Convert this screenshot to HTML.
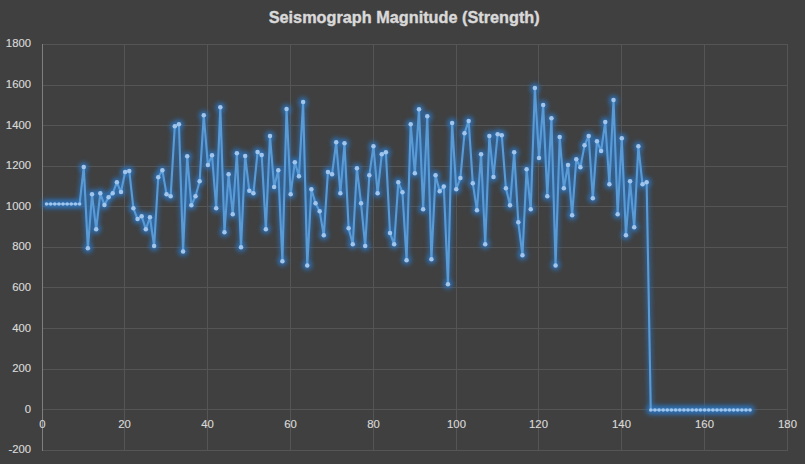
<!DOCTYPE html>
<html><head><meta charset="utf-8"><style>
html,body{margin:0;padding:0;background:#404040;}
body{width:805px;height:464px;overflow:hidden;}
svg{display:block;}
text{font-family:"Liberation Sans",sans-serif;}
</style></head><body>
<svg width="805" height="464" viewBox="0 0 805 464">
<defs>
<filter id="glowL" x="-10%" y="-10%" width="120%" height="120%">
<feGaussianBlur stdDeviation="2.5"/>
</filter>
<filter id="glowM" x="-10%" y="-10%" width="120%" height="120%">
<feGaussianBlur stdDeviation="2.5"/>
</filter>
</defs>
<rect width="805" height="464" fill="#404040"/>
<g stroke="#555555" stroke-width="1" fill="none">
<line x1="42" y1="44.5" x2="788" y2="44.5"/>
<line x1="42" y1="85.5" x2="788" y2="85.5"/>
<line x1="42" y1="125.5" x2="788" y2="125.5"/>
<line x1="42" y1="166.5" x2="788" y2="166.5"/>
<line x1="42" y1="206.5" x2="788" y2="206.5"/>
<line x1="42" y1="247.5" x2="788" y2="247.5"/>
<line x1="42" y1="287.5" x2="788" y2="287.5"/>
<line x1="42" y1="328.5" x2="788" y2="328.5"/>
<line x1="42" y1="369.5" x2="788" y2="369.5"/>
<line x1="42" y1="409.5" x2="788" y2="409.5"/>
<line x1="42" y1="450.5" x2="788" y2="450.5"/>
<line x1="124.5" y1="44" x2="124.5" y2="451"/>
<line x1="207.5" y1="44" x2="207.5" y2="451"/>
<line x1="290.5" y1="44" x2="290.5" y2="451"/>
<line x1="373.5" y1="44" x2="373.5" y2="451"/>
<line x1="456.5" y1="44" x2="456.5" y2="451"/>
<line x1="538.5" y1="44" x2="538.5" y2="451"/>
<line x1="621.5" y1="44" x2="621.5" y2="451"/>
<line x1="704.5" y1="44" x2="704.5" y2="451"/>
<line x1="787.5" y1="44" x2="787.5" y2="451"/>
</g>
<line x1="42.5" y1="44" x2="42.5" y2="451" stroke="#7f7f7f" stroke-width="1"/>
<g fill="#d9d9d9" font-size="11.3px" stroke="#d9d9d9" stroke-width="0.15">
<text x="31" y="46.50" text-anchor="end">1800</text><text x="31" y="87.50" text-anchor="end">1600</text><text x="31" y="128.50" text-anchor="end">1400</text><text x="31" y="168.50" text-anchor="end">1200</text><text x="31" y="209.50" text-anchor="end">1000</text><text x="31" y="249.50" text-anchor="end">800</text><text x="31" y="290.50" text-anchor="end">600</text><text x="31" y="331.50" text-anchor="end">400</text><text x="31" y="371.50" text-anchor="end">200</text><text x="31" y="412.50" text-anchor="end">0</text><text x="31" y="452.50" text-anchor="end">-200</text>
<text x="42.50" y="427.5" text-anchor="middle">0</text><text x="124.50" y="427.5" text-anchor="middle">20</text><text x="207.50" y="427.5" text-anchor="middle">40</text><text x="290.50" y="427.5" text-anchor="middle">60</text><text x="373.50" y="427.5" text-anchor="middle">80</text><text x="456.50" y="427.5" text-anchor="middle">100</text><text x="538.50" y="427.5" text-anchor="middle">120</text><text x="621.50" y="427.5" text-anchor="middle">140</text><text x="704.50" y="427.5" text-anchor="middle">160</text><text x="787.50" y="427.5" text-anchor="middle">180</text>
</g>
<text x="268.7" y="22.6" textLength="271" lengthAdjust="spacingAndGlyphs" fill="#d9d9d9" font-size="16.8px" font-weight="bold" stroke="#d9d9d9" stroke-width="0.4">Seismograph Magnitude (Strength)</text>
<g filter="url(#glowL)" opacity="0.9">
<polyline points="46.49,204.06 50.63,204.06 54.77,204.06 58.91,204.06 63.04,204.06 67.18,204.06 71.32,204.06 75.46,204.06 79.60,204.06 83.74,167.08 87.88,248.36 92.02,194.30 96.16,229.26 100.29,193.29 104.43,205.07 108.57,197.15 112.71,193.29 116.85,182.32 120.99,192.07 125.13,171.95 129.27,170.94 133.41,208.33 137.54,219.10 141.68,216.25 145.82,229.26 149.96,217.27 154.10,246.12 158.24,177.24 162.38,170.33 166.52,194.30 170.66,196.34 174.79,126.23 178.93,124.20 183.07,251.40 187.21,156.31 191.35,205.28 195.49,196.34 199.63,181.30 203.77,115.26 207.91,165.04 212.04,155.29 216.18,208.33 220.32,107.13 224.46,232.30 228.60,174.19 232.74,214.22 236.88,153.26 241.02,247.14 245.16,155.90 249.29,190.85 253.43,193.29 257.57,152.04 261.71,155.09 265.85,229.26 269.99,135.99 274.13,186.99 278.27,170.33 282.41,261.16 286.54,108.96 290.68,194.30 294.82,162.20 298.96,176.22 303.10,102.05 307.24,265.42 311.38,189.22 315.52,203.25 319.66,211.37 323.79,235.35 327.93,171.95 332.07,174.19 336.21,142.29 340.35,193.29 344.49,143.30 348.63,228.24 352.77,244.29 356.91,168.30 361.04,203.25 365.18,246.12 369.32,175.20 373.46,146.35 377.60,193.29 381.74,154.27 385.88,152.24 390.02,233.12 394.16,244.29 398.29,182.32 402.43,192.27 406.57,260.14 410.71,124.20 414.85,173.17 418.99,109.16 423.13,209.34 427.27,116.28 431.41,259.33 435.54,175.20 439.68,191.26 443.82,186.38 447.96,284.32 452.10,122.98 456.24,189.22 460.38,178.05 464.52,133.14 468.66,120.95 472.79,183.13 476.93,210.36 481.07,154.27 485.21,244.29 489.35,135.99 493.49,177.03 497.63,134.16 501.77,135.17 505.91,188.21 510.04,205.28 514.18,152.24 518.32,222.35 522.46,255.26 526.60,169.31 530.74,209.34 534.88,88.03 539.02,157.93 543.16,105.10 547.29,196.34 551.43,118.31 555.57,265.42 559.71,137.00 563.85,188.21 567.99,165.04 572.13,215.23 576.27,159.35 580.41,167.28 584.54,145.33 588.68,135.99 592.82,198.37 596.96,141.27 601.10,151.02 605.24,121.97 609.38,184.35 613.52,100.02 617.66,214.22 621.79,138.22 625.93,235.35 630.07,181.30 634.21,227.22 638.35,146.35 642.49,184.35 646.63,182.32 650.77,409.90 654.91,409.90 659.04,409.90 663.18,409.90 667.32,409.90 671.46,409.90 675.60,409.90 679.74,409.90 683.88,409.90 688.02,409.90 692.16,409.90 696.29,409.90 700.43,409.90 704.57,409.90 708.71,409.90 712.85,409.90 716.99,409.90 721.13,409.90 725.27,409.90 729.41,409.90 733.54,409.90 737.68,409.90 741.82,409.90 745.96,409.90 750.10,409.90" fill="none" stroke="#2f70b4" stroke-width="4" stroke-linejoin="round" stroke-linecap="round"/>
</g>
<g filter="url(#glowM)" opacity="1" fill="#2f70b4"><circle cx="46.49" cy="204.06" r="4.5"/><circle cx="50.63" cy="204.06" r="4.5"/><circle cx="54.77" cy="204.06" r="4.5"/><circle cx="58.91" cy="204.06" r="4.5"/><circle cx="63.04" cy="204.06" r="4.5"/><circle cx="67.18" cy="204.06" r="4.5"/><circle cx="71.32" cy="204.06" r="4.5"/><circle cx="75.46" cy="204.06" r="4.5"/><circle cx="79.60" cy="204.06" r="4.5"/><circle cx="83.74" cy="167.08" r="4.5"/><circle cx="87.88" cy="248.36" r="4.5"/><circle cx="92.02" cy="194.30" r="4.5"/><circle cx="96.16" cy="229.26" r="4.5"/><circle cx="100.29" cy="193.29" r="4.5"/><circle cx="104.43" cy="205.07" r="4.5"/><circle cx="108.57" cy="197.15" r="4.5"/><circle cx="112.71" cy="193.29" r="4.5"/><circle cx="116.85" cy="182.32" r="4.5"/><circle cx="120.99" cy="192.07" r="4.5"/><circle cx="125.13" cy="171.95" r="4.5"/><circle cx="129.27" cy="170.94" r="4.5"/><circle cx="133.41" cy="208.33" r="4.5"/><circle cx="137.54" cy="219.10" r="4.5"/><circle cx="141.68" cy="216.25" r="4.5"/><circle cx="145.82" cy="229.26" r="4.5"/><circle cx="149.96" cy="217.27" r="4.5"/><circle cx="154.10" cy="246.12" r="4.5"/><circle cx="158.24" cy="177.24" r="4.5"/><circle cx="162.38" cy="170.33" r="4.5"/><circle cx="166.52" cy="194.30" r="4.5"/><circle cx="170.66" cy="196.34" r="4.5"/><circle cx="174.79" cy="126.23" r="4.5"/><circle cx="178.93" cy="124.20" r="4.5"/><circle cx="183.07" cy="251.40" r="4.5"/><circle cx="187.21" cy="156.31" r="4.5"/><circle cx="191.35" cy="205.28" r="4.5"/><circle cx="195.49" cy="196.34" r="4.5"/><circle cx="199.63" cy="181.30" r="4.5"/><circle cx="203.77" cy="115.26" r="4.5"/><circle cx="207.91" cy="165.04" r="4.5"/><circle cx="212.04" cy="155.29" r="4.5"/><circle cx="216.18" cy="208.33" r="4.5"/><circle cx="220.32" cy="107.13" r="4.5"/><circle cx="224.46" cy="232.30" r="4.5"/><circle cx="228.60" cy="174.19" r="4.5"/><circle cx="232.74" cy="214.22" r="4.5"/><circle cx="236.88" cy="153.26" r="4.5"/><circle cx="241.02" cy="247.14" r="4.5"/><circle cx="245.16" cy="155.90" r="4.5"/><circle cx="249.29" cy="190.85" r="4.5"/><circle cx="253.43" cy="193.29" r="4.5"/><circle cx="257.57" cy="152.04" r="4.5"/><circle cx="261.71" cy="155.09" r="4.5"/><circle cx="265.85" cy="229.26" r="4.5"/><circle cx="269.99" cy="135.99" r="4.5"/><circle cx="274.13" cy="186.99" r="4.5"/><circle cx="278.27" cy="170.33" r="4.5"/><circle cx="282.41" cy="261.16" r="4.5"/><circle cx="286.54" cy="108.96" r="4.5"/><circle cx="290.68" cy="194.30" r="4.5"/><circle cx="294.82" cy="162.20" r="4.5"/><circle cx="298.96" cy="176.22" r="4.5"/><circle cx="303.10" cy="102.05" r="4.5"/><circle cx="307.24" cy="265.42" r="4.5"/><circle cx="311.38" cy="189.22" r="4.5"/><circle cx="315.52" cy="203.25" r="4.5"/><circle cx="319.66" cy="211.37" r="4.5"/><circle cx="323.79" cy="235.35" r="4.5"/><circle cx="327.93" cy="171.95" r="4.5"/><circle cx="332.07" cy="174.19" r="4.5"/><circle cx="336.21" cy="142.29" r="4.5"/><circle cx="340.35" cy="193.29" r="4.5"/><circle cx="344.49" cy="143.30" r="4.5"/><circle cx="348.63" cy="228.24" r="4.5"/><circle cx="352.77" cy="244.29" r="4.5"/><circle cx="356.91" cy="168.30" r="4.5"/><circle cx="361.04" cy="203.25" r="4.5"/><circle cx="365.18" cy="246.12" r="4.5"/><circle cx="369.32" cy="175.20" r="4.5"/><circle cx="373.46" cy="146.35" r="4.5"/><circle cx="377.60" cy="193.29" r="4.5"/><circle cx="381.74" cy="154.27" r="4.5"/><circle cx="385.88" cy="152.24" r="4.5"/><circle cx="390.02" cy="233.12" r="4.5"/><circle cx="394.16" cy="244.29" r="4.5"/><circle cx="398.29" cy="182.32" r="4.5"/><circle cx="402.43" cy="192.27" r="4.5"/><circle cx="406.57" cy="260.14" r="4.5"/><circle cx="410.71" cy="124.20" r="4.5"/><circle cx="414.85" cy="173.17" r="4.5"/><circle cx="418.99" cy="109.16" r="4.5"/><circle cx="423.13" cy="209.34" r="4.5"/><circle cx="427.27" cy="116.28" r="4.5"/><circle cx="431.41" cy="259.33" r="4.5"/><circle cx="435.54" cy="175.20" r="4.5"/><circle cx="439.68" cy="191.26" r="4.5"/><circle cx="443.82" cy="186.38" r="4.5"/><circle cx="447.96" cy="284.32" r="4.5"/><circle cx="452.10" cy="122.98" r="4.5"/><circle cx="456.24" cy="189.22" r="4.5"/><circle cx="460.38" cy="178.05" r="4.5"/><circle cx="464.52" cy="133.14" r="4.5"/><circle cx="468.66" cy="120.95" r="4.5"/><circle cx="472.79" cy="183.13" r="4.5"/><circle cx="476.93" cy="210.36" r="4.5"/><circle cx="481.07" cy="154.27" r="4.5"/><circle cx="485.21" cy="244.29" r="4.5"/><circle cx="489.35" cy="135.99" r="4.5"/><circle cx="493.49" cy="177.03" r="4.5"/><circle cx="497.63" cy="134.16" r="4.5"/><circle cx="501.77" cy="135.17" r="4.5"/><circle cx="505.91" cy="188.21" r="4.5"/><circle cx="510.04" cy="205.28" r="4.5"/><circle cx="514.18" cy="152.24" r="4.5"/><circle cx="518.32" cy="222.35" r="4.5"/><circle cx="522.46" cy="255.26" r="4.5"/><circle cx="526.60" cy="169.31" r="4.5"/><circle cx="530.74" cy="209.34" r="4.5"/><circle cx="534.88" cy="88.03" r="4.5"/><circle cx="539.02" cy="157.93" r="4.5"/><circle cx="543.16" cy="105.10" r="4.5"/><circle cx="547.29" cy="196.34" r="4.5"/><circle cx="551.43" cy="118.31" r="4.5"/><circle cx="555.57" cy="265.42" r="4.5"/><circle cx="559.71" cy="137.00" r="4.5"/><circle cx="563.85" cy="188.21" r="4.5"/><circle cx="567.99" cy="165.04" r="4.5"/><circle cx="572.13" cy="215.23" r="4.5"/><circle cx="576.27" cy="159.35" r="4.5"/><circle cx="580.41" cy="167.28" r="4.5"/><circle cx="584.54" cy="145.33" r="4.5"/><circle cx="588.68" cy="135.99" r="4.5"/><circle cx="592.82" cy="198.37" r="4.5"/><circle cx="596.96" cy="141.27" r="4.5"/><circle cx="601.10" cy="151.02" r="4.5"/><circle cx="605.24" cy="121.97" r="4.5"/><circle cx="609.38" cy="184.35" r="4.5"/><circle cx="613.52" cy="100.02" r="4.5"/><circle cx="617.66" cy="214.22" r="4.5"/><circle cx="621.79" cy="138.22" r="4.5"/><circle cx="625.93" cy="235.35" r="4.5"/><circle cx="630.07" cy="181.30" r="4.5"/><circle cx="634.21" cy="227.22" r="4.5"/><circle cx="638.35" cy="146.35" r="4.5"/><circle cx="642.49" cy="184.35" r="4.5"/><circle cx="646.63" cy="182.32" r="4.5"/><circle cx="650.77" cy="409.90" r="4.5"/><circle cx="654.91" cy="409.90" r="4.5"/><circle cx="659.04" cy="409.90" r="4.5"/><circle cx="663.18" cy="409.90" r="4.5"/><circle cx="667.32" cy="409.90" r="4.5"/><circle cx="671.46" cy="409.90" r="4.5"/><circle cx="675.60" cy="409.90" r="4.5"/><circle cx="679.74" cy="409.90" r="4.5"/><circle cx="683.88" cy="409.90" r="4.5"/><circle cx="688.02" cy="409.90" r="4.5"/><circle cx="692.16" cy="409.90" r="4.5"/><circle cx="696.29" cy="409.90" r="4.5"/><circle cx="700.43" cy="409.90" r="4.5"/><circle cx="704.57" cy="409.90" r="4.5"/><circle cx="708.71" cy="409.90" r="4.5"/><circle cx="712.85" cy="409.90" r="4.5"/><circle cx="716.99" cy="409.90" r="4.5"/><circle cx="721.13" cy="409.90" r="4.5"/><circle cx="725.27" cy="409.90" r="4.5"/><circle cx="729.41" cy="409.90" r="4.5"/><circle cx="733.54" cy="409.90" r="4.5"/><circle cx="737.68" cy="409.90" r="4.5"/><circle cx="741.82" cy="409.90" r="4.5"/><circle cx="745.96" cy="409.90" r="4.5"/><circle cx="750.10" cy="409.90" r="4.5"/></g>
<polyline points="46.49,204.06 50.63,204.06 54.77,204.06 58.91,204.06 63.04,204.06 67.18,204.06 71.32,204.06 75.46,204.06 79.60,204.06 83.74,167.08 87.88,248.36 92.02,194.30 96.16,229.26 100.29,193.29 104.43,205.07 108.57,197.15 112.71,193.29 116.85,182.32 120.99,192.07 125.13,171.95 129.27,170.94 133.41,208.33 137.54,219.10 141.68,216.25 145.82,229.26 149.96,217.27 154.10,246.12 158.24,177.24 162.38,170.33 166.52,194.30 170.66,196.34 174.79,126.23 178.93,124.20 183.07,251.40 187.21,156.31 191.35,205.28 195.49,196.34 199.63,181.30 203.77,115.26 207.91,165.04 212.04,155.29 216.18,208.33 220.32,107.13 224.46,232.30 228.60,174.19 232.74,214.22 236.88,153.26 241.02,247.14 245.16,155.90 249.29,190.85 253.43,193.29 257.57,152.04 261.71,155.09 265.85,229.26 269.99,135.99 274.13,186.99 278.27,170.33 282.41,261.16 286.54,108.96 290.68,194.30 294.82,162.20 298.96,176.22 303.10,102.05 307.24,265.42 311.38,189.22 315.52,203.25 319.66,211.37 323.79,235.35 327.93,171.95 332.07,174.19 336.21,142.29 340.35,193.29 344.49,143.30 348.63,228.24 352.77,244.29 356.91,168.30 361.04,203.25 365.18,246.12 369.32,175.20 373.46,146.35 377.60,193.29 381.74,154.27 385.88,152.24 390.02,233.12 394.16,244.29 398.29,182.32 402.43,192.27 406.57,260.14 410.71,124.20 414.85,173.17 418.99,109.16 423.13,209.34 427.27,116.28 431.41,259.33 435.54,175.20 439.68,191.26 443.82,186.38 447.96,284.32 452.10,122.98 456.24,189.22 460.38,178.05 464.52,133.14 468.66,120.95 472.79,183.13 476.93,210.36 481.07,154.27 485.21,244.29 489.35,135.99 493.49,177.03 497.63,134.16 501.77,135.17 505.91,188.21 510.04,205.28 514.18,152.24 518.32,222.35 522.46,255.26 526.60,169.31 530.74,209.34 534.88,88.03 539.02,157.93 543.16,105.10 547.29,196.34 551.43,118.31 555.57,265.42 559.71,137.00 563.85,188.21 567.99,165.04 572.13,215.23 576.27,159.35 580.41,167.28 584.54,145.33 588.68,135.99 592.82,198.37 596.96,141.27 601.10,151.02 605.24,121.97 609.38,184.35 613.52,100.02 617.66,214.22 621.79,138.22 625.93,235.35 630.07,181.30 634.21,227.22 638.35,146.35 642.49,184.35 646.63,182.32 650.77,409.90 654.91,409.90 659.04,409.90 663.18,409.90 667.32,409.90 671.46,409.90 675.60,409.90 679.74,409.90 683.88,409.90 688.02,409.90 692.16,409.90 696.29,409.90 700.43,409.90 704.57,409.90 708.71,409.90 712.85,409.90 716.99,409.90 721.13,409.90 725.27,409.90 729.41,409.90 733.54,409.90 737.68,409.90 741.82,409.90 745.96,409.90 750.10,409.90" fill="none" stroke="#5b9bd5" stroke-width="2.1" stroke-linejoin="round"/>
<g fill="#a2c5eb">
<circle cx="46.49" cy="204.06" r="1.75"/>
<circle cx="50.63" cy="204.06" r="1.75"/>
<circle cx="54.77" cy="204.06" r="1.75"/>
<circle cx="58.91" cy="204.06" r="1.75"/>
<circle cx="63.04" cy="204.06" r="1.75"/>
<circle cx="67.18" cy="204.06" r="1.75"/>
<circle cx="71.32" cy="204.06" r="1.75"/>
<circle cx="75.46" cy="204.06" r="1.75"/>
<circle cx="79.60" cy="204.06" r="1.75"/>
<circle cx="83.74" cy="167.08" r="2.25"/>
<circle cx="87.88" cy="248.36" r="2.25"/>
<circle cx="92.02" cy="194.30" r="2.25"/>
<circle cx="96.16" cy="229.26" r="2.25"/>
<circle cx="100.29" cy="193.29" r="2.25"/>
<circle cx="104.43" cy="205.07" r="2.25"/>
<circle cx="108.57" cy="197.15" r="2.25"/>
<circle cx="112.71" cy="193.29" r="2.25"/>
<circle cx="116.85" cy="182.32" r="2.25"/>
<circle cx="120.99" cy="192.07" r="2.25"/>
<circle cx="125.13" cy="171.95" r="2.25"/>
<circle cx="129.27" cy="170.94" r="2.25"/>
<circle cx="133.41" cy="208.33" r="2.25"/>
<circle cx="137.54" cy="219.10" r="2.25"/>
<circle cx="141.68" cy="216.25" r="2.25"/>
<circle cx="145.82" cy="229.26" r="2.25"/>
<circle cx="149.96" cy="217.27" r="2.25"/>
<circle cx="154.10" cy="246.12" r="2.25"/>
<circle cx="158.24" cy="177.24" r="2.25"/>
<circle cx="162.38" cy="170.33" r="2.25"/>
<circle cx="166.52" cy="194.30" r="2.25"/>
<circle cx="170.66" cy="196.34" r="2.25"/>
<circle cx="174.79" cy="126.23" r="2.25"/>
<circle cx="178.93" cy="124.20" r="2.25"/>
<circle cx="183.07" cy="251.40" r="2.25"/>
<circle cx="187.21" cy="156.31" r="2.25"/>
<circle cx="191.35" cy="205.28" r="2.25"/>
<circle cx="195.49" cy="196.34" r="2.25"/>
<circle cx="199.63" cy="181.30" r="2.25"/>
<circle cx="203.77" cy="115.26" r="2.25"/>
<circle cx="207.91" cy="165.04" r="2.25"/>
<circle cx="212.04" cy="155.29" r="2.25"/>
<circle cx="216.18" cy="208.33" r="2.25"/>
<circle cx="220.32" cy="107.13" r="2.25"/>
<circle cx="224.46" cy="232.30" r="2.25"/>
<circle cx="228.60" cy="174.19" r="2.25"/>
<circle cx="232.74" cy="214.22" r="2.25"/>
<circle cx="236.88" cy="153.26" r="2.25"/>
<circle cx="241.02" cy="247.14" r="2.25"/>
<circle cx="245.16" cy="155.90" r="2.25"/>
<circle cx="249.29" cy="190.85" r="2.25"/>
<circle cx="253.43" cy="193.29" r="2.25"/>
<circle cx="257.57" cy="152.04" r="2.25"/>
<circle cx="261.71" cy="155.09" r="2.25"/>
<circle cx="265.85" cy="229.26" r="2.25"/>
<circle cx="269.99" cy="135.99" r="2.25"/>
<circle cx="274.13" cy="186.99" r="2.25"/>
<circle cx="278.27" cy="170.33" r="2.25"/>
<circle cx="282.41" cy="261.16" r="2.25"/>
<circle cx="286.54" cy="108.96" r="2.25"/>
<circle cx="290.68" cy="194.30" r="2.25"/>
<circle cx="294.82" cy="162.20" r="2.25"/>
<circle cx="298.96" cy="176.22" r="2.25"/>
<circle cx="303.10" cy="102.05" r="2.25"/>
<circle cx="307.24" cy="265.42" r="2.25"/>
<circle cx="311.38" cy="189.22" r="2.25"/>
<circle cx="315.52" cy="203.25" r="2.25"/>
<circle cx="319.66" cy="211.37" r="2.25"/>
<circle cx="323.79" cy="235.35" r="2.25"/>
<circle cx="327.93" cy="171.95" r="2.25"/>
<circle cx="332.07" cy="174.19" r="2.25"/>
<circle cx="336.21" cy="142.29" r="2.25"/>
<circle cx="340.35" cy="193.29" r="2.25"/>
<circle cx="344.49" cy="143.30" r="2.25"/>
<circle cx="348.63" cy="228.24" r="2.25"/>
<circle cx="352.77" cy="244.29" r="2.25"/>
<circle cx="356.91" cy="168.30" r="2.25"/>
<circle cx="361.04" cy="203.25" r="2.25"/>
<circle cx="365.18" cy="246.12" r="2.25"/>
<circle cx="369.32" cy="175.20" r="2.25"/>
<circle cx="373.46" cy="146.35" r="2.25"/>
<circle cx="377.60" cy="193.29" r="2.25"/>
<circle cx="381.74" cy="154.27" r="2.25"/>
<circle cx="385.88" cy="152.24" r="2.25"/>
<circle cx="390.02" cy="233.12" r="2.25"/>
<circle cx="394.16" cy="244.29" r="2.25"/>
<circle cx="398.29" cy="182.32" r="2.25"/>
<circle cx="402.43" cy="192.27" r="2.25"/>
<circle cx="406.57" cy="260.14" r="2.25"/>
<circle cx="410.71" cy="124.20" r="2.25"/>
<circle cx="414.85" cy="173.17" r="2.25"/>
<circle cx="418.99" cy="109.16" r="2.25"/>
<circle cx="423.13" cy="209.34" r="2.25"/>
<circle cx="427.27" cy="116.28" r="2.25"/>
<circle cx="431.41" cy="259.33" r="2.25"/>
<circle cx="435.54" cy="175.20" r="2.25"/>
<circle cx="439.68" cy="191.26" r="2.25"/>
<circle cx="443.82" cy="186.38" r="2.25"/>
<circle cx="447.96" cy="284.32" r="2.25"/>
<circle cx="452.10" cy="122.98" r="2.25"/>
<circle cx="456.24" cy="189.22" r="2.25"/>
<circle cx="460.38" cy="178.05" r="2.25"/>
<circle cx="464.52" cy="133.14" r="2.25"/>
<circle cx="468.66" cy="120.95" r="2.25"/>
<circle cx="472.79" cy="183.13" r="2.25"/>
<circle cx="476.93" cy="210.36" r="2.25"/>
<circle cx="481.07" cy="154.27" r="2.25"/>
<circle cx="485.21" cy="244.29" r="2.25"/>
<circle cx="489.35" cy="135.99" r="2.25"/>
<circle cx="493.49" cy="177.03" r="2.25"/>
<circle cx="497.63" cy="134.16" r="2.25"/>
<circle cx="501.77" cy="135.17" r="2.25"/>
<circle cx="505.91" cy="188.21" r="2.25"/>
<circle cx="510.04" cy="205.28" r="2.25"/>
<circle cx="514.18" cy="152.24" r="2.25"/>
<circle cx="518.32" cy="222.35" r="2.25"/>
<circle cx="522.46" cy="255.26" r="2.25"/>
<circle cx="526.60" cy="169.31" r="2.25"/>
<circle cx="530.74" cy="209.34" r="2.25"/>
<circle cx="534.88" cy="88.03" r="2.25"/>
<circle cx="539.02" cy="157.93" r="2.25"/>
<circle cx="543.16" cy="105.10" r="2.25"/>
<circle cx="547.29" cy="196.34" r="2.25"/>
<circle cx="551.43" cy="118.31" r="2.25"/>
<circle cx="555.57" cy="265.42" r="2.25"/>
<circle cx="559.71" cy="137.00" r="2.25"/>
<circle cx="563.85" cy="188.21" r="2.25"/>
<circle cx="567.99" cy="165.04" r="2.25"/>
<circle cx="572.13" cy="215.23" r="2.25"/>
<circle cx="576.27" cy="159.35" r="2.25"/>
<circle cx="580.41" cy="167.28" r="2.25"/>
<circle cx="584.54" cy="145.33" r="2.25"/>
<circle cx="588.68" cy="135.99" r="2.25"/>
<circle cx="592.82" cy="198.37" r="2.25"/>
<circle cx="596.96" cy="141.27" r="2.25"/>
<circle cx="601.10" cy="151.02" r="2.25"/>
<circle cx="605.24" cy="121.97" r="2.25"/>
<circle cx="609.38" cy="184.35" r="2.25"/>
<circle cx="613.52" cy="100.02" r="2.25"/>
<circle cx="617.66" cy="214.22" r="2.25"/>
<circle cx="621.79" cy="138.22" r="2.25"/>
<circle cx="625.93" cy="235.35" r="2.25"/>
<circle cx="630.07" cy="181.30" r="2.25"/>
<circle cx="634.21" cy="227.22" r="2.25"/>
<circle cx="638.35" cy="146.35" r="2.25"/>
<circle cx="642.49" cy="184.35" r="2.25"/>
<circle cx="646.63" cy="182.32" r="2.25"/>
<circle cx="650.77" cy="409.90" r="1.75"/>
<circle cx="654.91" cy="409.90" r="1.75"/>
<circle cx="659.04" cy="409.90" r="1.75"/>
<circle cx="663.18" cy="409.90" r="1.75"/>
<circle cx="667.32" cy="409.90" r="1.75"/>
<circle cx="671.46" cy="409.90" r="1.75"/>
<circle cx="675.60" cy="409.90" r="1.75"/>
<circle cx="679.74" cy="409.90" r="1.75"/>
<circle cx="683.88" cy="409.90" r="1.75"/>
<circle cx="688.02" cy="409.90" r="1.75"/>
<circle cx="692.16" cy="409.90" r="1.75"/>
<circle cx="696.29" cy="409.90" r="1.75"/>
<circle cx="700.43" cy="409.90" r="1.75"/>
<circle cx="704.57" cy="409.90" r="1.75"/>
<circle cx="708.71" cy="409.90" r="1.75"/>
<circle cx="712.85" cy="409.90" r="1.75"/>
<circle cx="716.99" cy="409.90" r="1.75"/>
<circle cx="721.13" cy="409.90" r="1.75"/>
<circle cx="725.27" cy="409.90" r="1.75"/>
<circle cx="729.41" cy="409.90" r="1.75"/>
<circle cx="733.54" cy="409.90" r="1.75"/>
<circle cx="737.68" cy="409.90" r="1.75"/>
<circle cx="741.82" cy="409.90" r="1.75"/>
<circle cx="745.96" cy="409.90" r="1.75"/>
<circle cx="750.10" cy="409.90" r="1.75"/>
</g>
</svg>
</body></html>
